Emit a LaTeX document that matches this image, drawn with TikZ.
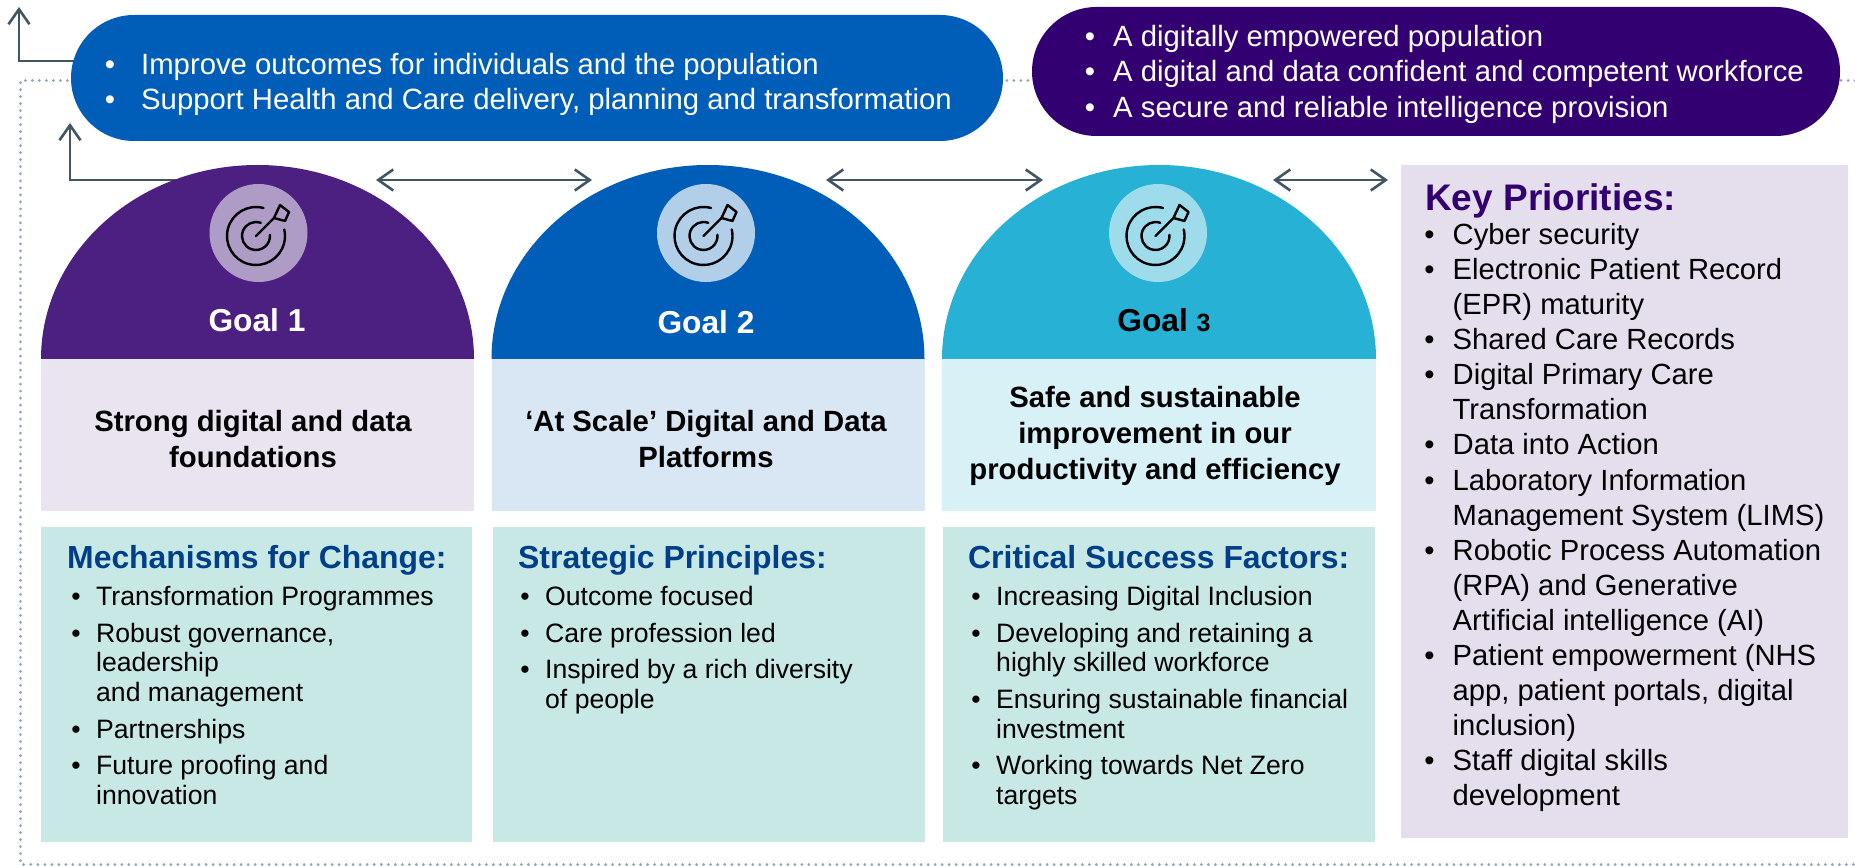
\documentclass[tikz,border=0pt]{standalone}
\usepackage{fontspec}
\setmainfont{Liberation Sans}
\usetikzlibrary{arrows.meta,shapes.misc}
\definecolor{linkgrey}{HTML}{425563}
\definecolor{dotgrey}{HTML}{8CA2B8}
\definecolor{nhsblue}{HTML}{005EB8}
\definecolor{nhspurple}{HTML}{330072}
\definecolor{goalone}{HTML}{4C2080}
\definecolor{goalthree}{HTML}{27B1D5}
\definecolor{headblue}{HTML}{003F87}
\definecolor{mint}{HTML}{C7E8E5}
\newcommand{\bul}[1]{\llap{\textbullet\hspace{#1}}}
\tikzset{
  link/.style={draw=linkgrey,line width=2.6pt,{Straight Barb[length=15pt,width=21pt]}-{Straight Barb[length=15pt,width=21pt]}},
  uplink/.style={draw=linkgrey,line width=2.6pt,-{Straight Barb[length=15pt,width=21pt]}},
  pill/.style={rounded rectangle,inner sep=0pt},
  panel/.style={rectangle,anchor=north west,inner sep=0pt},
  pilltext/.style={anchor=north west,inner sep=0pt,align=left,text=white,font=\fontsize{29.3}{35.3}\selectfont},
  listtext/.style={anchor=north west,inner sep=0pt,align=left,font=\fontsize{26.6}{29.6}\selectfont},
  headtext/.style={anchor=north west,inner sep=0pt,font=\bfseries\fontsize{31.9}{35}\selectfont},
  goaltext/.style={inner sep=0pt,font=\bfseries\fontsize{31.7}{35}\selectfont},
  titletext/.style={inner sep=0pt,align=center,font=\bfseries\fontsize{29.3}{36}\selectfont},
  iconspot/.style={circle,minimum size=98pt,inner sep=0pt},
  targeticon/.pic={
    \begin{scope}[shift={(-2.5pt,-3pt)},line width=2.4pt,line cap=round,draw=black]
      \draw (75:29pt) arc[start angle=75,end angle=373,radius=29pt];
      \draw (70:14pt) arc[start angle=70,end angle=365,radius=14pt];
      \draw (0pt,0pt) -- (18pt,18pt);
      \draw[line join=round] (18pt,18pt) -- (24pt,31pt) -- (33pt,24pt) -- (29pt,15pt) -- cycle;
    \end{scope}
  }
}
\begin{document}
\begin{tikzpicture}[x=1pt,y=-1pt]
  \useasboundingbox (0,0) rectangle (1855,866);
  % dotted frame
  \coordinate (frameright) at (1855,81);
  \coordinate (framecorner) at (20,81);
  \coordinate (framelow) at (20,864);
  \coordinate (framelowright) at (1855,864);
  \draw[dotgrey,line width=3pt,line cap=round,dash pattern=on 0.01pt off 7pt]
    (frameright) -- (framecorner) -- (framelow) -- (framelowright);
  % arrows behind the shapes
  \coordinate (bluestart) at (90,61);
  \coordinate (blueknee) at (19,61);
  \coordinate (bluetip) at (19,7);
  \draw[uplink] (bluestart) -- (blueknee) -- (bluetip);
  \coordinate (goalstart) at (200,180);
  \coordinate (goalknee) at (70,180);
  \coordinate (goaltip) at (70,123);
  \draw[uplink] (goalstart) -- (goalknee) -- (goaltip);
  \coordinate (linkAa) at (376,180);
  \coordinate (linkAb) at (592,180);
  \coordinate (linkBa) at (826,180);
  \coordinate (linkBb) at (1043,180);
  \coordinate (linkCa) at (1273,180);
  \coordinate (linkCb) at (1388,180);
  \draw[link] (linkAa) -- (linkAb);
  \draw[link] (linkBa) -- (linkBb);
  \draw[link] (linkCa) -- (linkCb);
  % pills
  \node[pill,fill=nhsblue,minimum width=932pt,minimum height=126pt] (bluepill) at (537,78) {};
  \node[pill,fill=nhspurple,minimum width=808pt,minimum height=129pt] (purplepill) at (1436,71.5) {};
  \node[pilltext] (bluetext) at (141,53)
    {\bul{26pt}Improve outcomes for individuals and the population\\
     \bul{26pt}Support Health and Care delivery, planning and transformation};
  \node[pilltext] (purpletext) at (1113,25)
    {\bul{18pt}A digitally empowered population\\
     \bul{18pt}A digital and data confident and competent workforce\\
     \bul{18pt}A secure and reliable intelligence provision};
  % goal heads
  \fill[goalone] (41,359) arc[start angle=180,end angle=0,x radius=216.5pt,y radius=194pt] -- cycle;
  \fill[nhsblue] (491.5,359) arc[start angle=180,end angle=0,x radius=216.5pt,y radius=194pt] -- cycle;
  \fill[goalthree] (942,359) arc[start angle=180,end angle=0,x radius=217pt,y radius=194pt] -- cycle;
  \node[iconspot,fill=goalone!45!white] (spotone) at (258.5,233) {};
  \node[iconspot,fill=nhsblue!30!white] (spottwo) at (706,233) {};
  \node[iconspot,fill=goalthree!45!white] (spotthree) at (1158,233) {};
  \pic at (spotone) {targeticon};
  \pic at (spottwo) {targeticon};
  \pic at (spotthree) {targeticon};
  \node[goaltext,text=white] (goalA) at (257,320) {Goal 1};
  \node[goaltext,text=white] (goalB) at (706,322) {Goal 2};
  \node[goaltext] (goalC) at (1164,320) {Goal {\fontsize{25}{35}\selectfont 3}};
  % title panels
  \node[panel,fill=goalone!12!white,minimum width=433pt,minimum height=152pt] (titleA) at (41,359) {};
  \node[panel,fill=nhsblue!15!white,minimum width=433pt,minimum height=152pt] (titleB) at (492,359) {};
  \node[panel,fill=goalthree!18!white,minimum width=434pt,minimum height=152pt] (titleC) at (942,359) {};
  \node[titletext] (textA) at (253,439) {Strong digital and data\\foundations};
  \node[titletext] (textB) at (706,439) {‘At Scale’ Digital and Data\\Platforms};
  \node[titletext] (textC) at (1155,436) {Safe and sustainable\\improvement in our\\productivity and efficiency};
  % lower panels
  \node[panel,fill=mint,minimum width=431pt,minimum height=315pt] (lowA) at (41,527) {};
  \node[panel,fill=mint,minimum width=432pt,minimum height=315pt] (lowB) at (493,527) {};
  \node[panel,fill=mint,minimum width=432pt,minimum height=315pt] (lowC) at (943,527) {};
  \node[panel,fill=nhspurple!13!white,minimum width=447pt,minimum height=673pt] (lowD) at (1401,165) {};
  \node[headtext,text=headblue] (headA) at (67,545) {Mechanisms for Change:};
  \node[headtext,text=headblue] (headB) at (518,545) {Strategic Principles:};
  \node[headtext,text=headblue] (headC) at (968,545) {Critical Success Factors:};
  \node[headtext,text=nhspurple,font=\bfseries\fontsize{37}{40}\selectfont] (headD) at (1425,183) {Key Priorities:};
  \node[listtext] (listA) at (96,586)
    {\bul{15.5pt}Transformation Programmes\\[7.1pt]
     \bul{15.5pt}Robust governance,\\
     leadership\\
     and management\\[7.1pt]
     \bul{15.5pt}Partnerships\\[7.1pt]
     \bul{15.5pt}Future proofing and\\
     innovation};
  \node[listtext] (listB) at (545,586)
    {\bul{15.5pt}Outcome focused\\[7.1pt]
     \bul{15.5pt}Care profession led\\[7.1pt]
     \bul{15.5pt}Inspired by a rich diversity\\
     of people};
  \node[listtext] (listC) at (996,586)
    {\bul{15.5pt}Increasing Digital Inclusion\\[7.1pt]
     \bul{15.5pt}Developing and retaining a\\
     highly skilled workforce\\[7.1pt]
     \bul{15.5pt}Ensuring sustainable financial\\
     investment\\[7.1pt]
     \bul{15.5pt}Working towards Net Zero\\
     targets};
  \node[listtext,font=\fontsize{29.2}{35.1}\selectfont] (listD) at (1452.5,223)
    {\bul{18pt}Cyber security\\
     \bul{18pt}Electronic Patient Record\\
     (EPR) maturity\\
     \bul{18pt}Shared Care Records\\
     \bul{18pt}Digital Primary Care\\
     Transformation\\
     \bul{18pt}Data into Action\\
     \bul{18pt}Laboratory Information\\
     Management System (LIMS)\\
     \bul{18pt}Robotic Process Automation\\
     (RPA) and Generative\\
     Artificial intelligence (AI)\\
     \bul{18pt}Patient empowerment (NHS\\
     app, patient portals, digital\\
     inclusion)\\
     \bul{18pt}Staff digital skills\\
     development};
\end{tikzpicture}
\end{document}
